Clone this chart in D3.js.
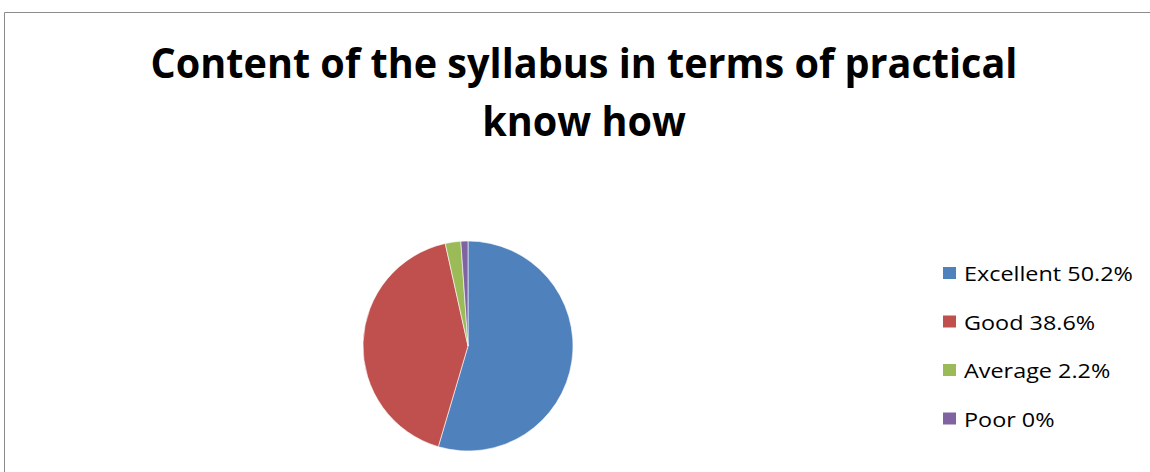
<!DOCTYPE html>
<html><head><meta charset="utf-8">
<script src="https://cdn.jsdelivr.net/npm/d3@7"></script>
<style>body{margin:0;background:#fff;} svg{display:block;}</style>
</head><body>
<script>
const categories = ["Excellent", "Good", "Average", "Poor"];
const values = [50.2, 38.6, 2.2, 1.0];
const legendLabels = ["Excellent 50.2%", "Good 38.6%", "Average 2.2%", "Poor 0%"];
const colors = ["#4F81BD", "#C0504D", "#9BBB59", "#8064A2"];
const titleLines = ["Content of the syllabus in terms of practical", "know how"];

const W = 1150, H = 472;
const svg = d3.select("body").append("svg").attr("width", W).attr("height", H);
svg.append("rect").attr("width", W).attr("height", H).attr("fill", "#fff");
svg.append("path").attr("d", "M4.5,472 V12.5 H1150").attr("fill", "none").attr("stroke", "#8c8c8c").attr("stroke-width", 1);

const font = "'Open Sans', 'Liberation Sans', sans-serif";
// title (font sized for cap height, compressed horizontally to the reference width)
const tfs = 41;
const t1 = svg.append("text").attr("text-anchor", "middle")
  .attr("font-family", font).attr("font-weight", "bold").attr("font-size", tfs).attr("fill", "#000").text(titleLines[0]);
const sx = 867 / t1.node().getComputedTextLength();
t1.attr("transform", `translate(584,77.5) scale(${sx},1)`);
svg.append("text").attr("text-anchor", "middle").attr("transform", `translate(584,136) scale(${sx},1)`)
  .attr("font-family", font).attr("font-weight", "bold").attr("font-size", tfs).attr("fill", "#000").text(titleLines[1]);

// pie
const cx = 468, cy = 346, r = 105;
const pie = d3.pie().sort(null).value(d => d)(values);
const arc = d3.arc().innerRadius(0).outerRadius(r);
svg.append("g").attr("transform", `translate(${cx},${cy})`)
  .selectAll("path").data(pie).join("path")
  .attr("d", arc).attr("fill", (d, i) => colors[i])
  .attr("stroke", "#fff").attr("stroke-width", 0.6);

// legend
const ys = [273, 321.5, 370, 418.5];
const lfs = 20;
const lt = svg.append("g").selectAll("g").data(legendLabels).join("g");
lt.append("rect").attr("x", 943).attr("y", (d, i) => ys[i] - 6).attr("width", 13).attr("height", 12)
  .attr("fill", (d, i) => colors[i]);
const txt = lt.append("text")
  .attr("font-family", font).attr("font-size", lfs).attr("fill", "#000").text(d => d);
const lsx = 169 / txt.nodes()[0].getComputedTextLength();
txt.attr("transform", (d, i) => `translate(964,${ys[i] + 8}) scale(${lsx},1)`);
</script>
</body></html>
